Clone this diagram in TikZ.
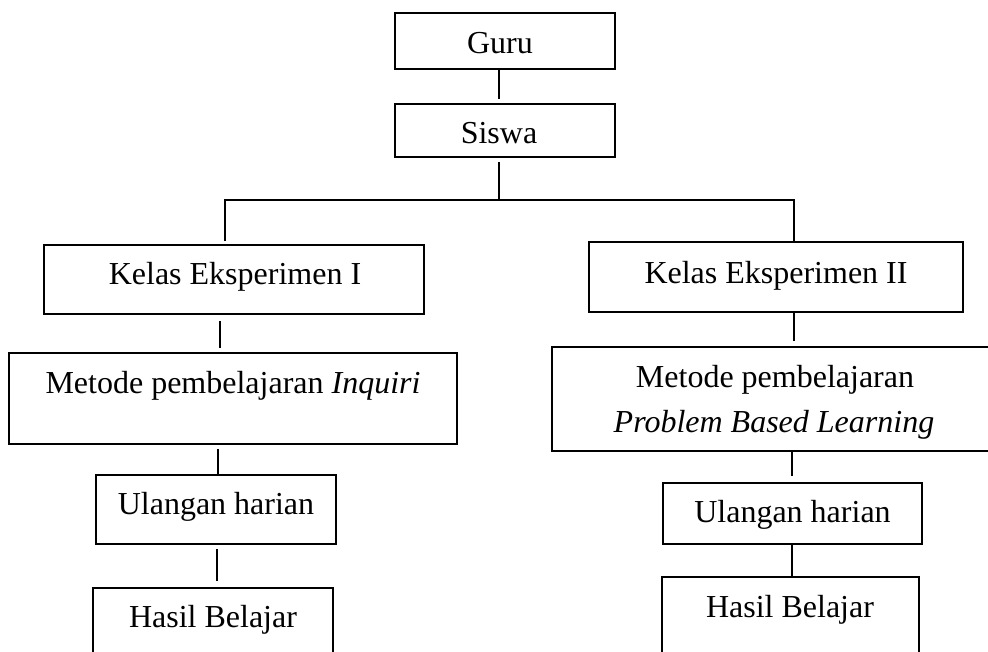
\documentclass[tikz,border=0pt]{standalone}
\usepackage{fontspec}
\setmainfont{Liberation Serif}
\tikzset{
  box/.style={draw, rectangle, line width=1.8pt, inner sep=0pt},
  txt/.style={anchor=base, inner sep=0pt, font=\fontsize{32}{38}\selectfont},
  conn/.style={line width=1.8pt},
}
\begin{document}
\begin{tikzpicture}[x=1pt, y=-1pt]
\useasboundingbox (0,0) rectangle (988,651);
\clip (0,0) rectangle (988,651);
% boxes
\node[box, minimum width=220pt, minimum height=56pt] (guru) at (505,41) {};
\node[box, minimum width=220pt, minimum height=53pt] (siswa) at (505,130.5) {};
\node[box, minimum width=380pt, minimum height=69pt] (ke1) at (234,279.5) {};
\node[box, minimum width=374pt, minimum height=70pt] (ke2) at (776,277) {};
\node[box, minimum width=448pt, minimum height=91pt] (m1) at (233,398.5) {};
\node[box, minimum width=452pt, minimum height=104pt] (m2) at (778,399) {};
\node[box, minimum width=240pt, minimum height=69pt] (u1) at (216,509.5) {};
\node[box, minimum width=259pt, minimum height=61pt] (u2) at (792.5,513.5) {};
\node[box, minimum width=240pt, minimum height=112pt] (h1) at (213,644) {};
\node[box, minimum width=257pt, minimum height=123pt] (h2) at (790.5,638.5) {};
% texts
\node[txt] (tguru) at (500,53) {Guru};
\node[txt] (tsiswa) at (499,143) {Siswa};
\node[txt] (tke1) at (235,284) {Kelas Eksperimen I};
\node[txt] (tke2) at (776,283) {Kelas Eksperimen II};
\node[txt] (tm1) at (233,393) {Metode pembelajaran \textit{Inquiri}};
\node[txt] (tm2a) at (775,387) {Metode pembelajaran};
\node[txt] (tm2b) at (774,432) {\textit{Problem Based Learning}};
\node[txt] (tu1) at (216,514) {Ulangan harian};
\node[txt] (tu2) at (792.5,522) {Ulangan harian};
\node[txt] (th1) at (213,627) {Hasil Belajar};
\node[txt] (th2) at (790,617) {Hasil Belajar};
% connector columns
\coordinate (cM) at (499,0);
\coordinate (cL) at (225,0);
\coordinate (cR) at (794,0);
\coordinate (c1) at (220,0);
\coordinate (c2) at (218,0);
\coordinate (c3) at (217,0);
\coordinate (c4) at (792,0);
\coordinate (bar) at (0,200);
% connectors
\draw[conn, shorten >=4pt] (guru.south -| cM) -- (siswa.north -| cM);
\draw[conn, shorten <=4pt] (siswa.south -| cM) -- (bar -| cM);
\draw[conn, shorten <=3pt] (ke1.north -| cL) -- (bar -| cL) -- (bar -| cR) -- (ke2.north -| cR);
\draw[conn, shorten <=6pt, shorten >=4pt] (ke1.south -| c1) -- (m1.north -| c1);
\draw[conn, shorten >=5pt] (ke2.south -| cR) -- (m2.north -| cR);
\draw[conn, shorten <=4pt] (m1.south -| c2) -- (u1.north -| c2);
\draw[conn, shorten <=4pt, shorten >=6pt] (u1.south -| c3) -- (h1.north -| c3);
\draw[conn, shorten >=6pt] (m2.south -| c4) -- (u2.north -| c4);
\draw[conn] (u2.south -| c4) -- (h2.north -| c4);
\end{tikzpicture}
\end{document}
